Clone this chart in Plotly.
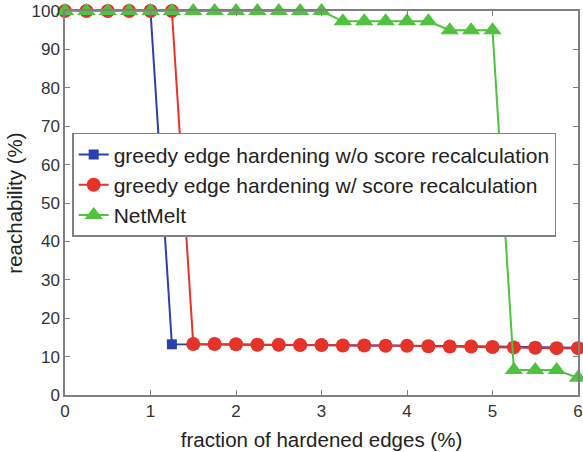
import plotly.graph_objects as go

x = [i * 0.25 for i in range(25)]
blue_y = [100, 100, 100, 100, 100, 13.2, 13.2, 13.2, 13.1, 13.1, 13.0, 13.0, 13.0,
          12.9, 12.9, 12.9, 12.8, 12.8, 12.7, 12.7, 12.6, 12.5, 12.4, 12.3, 12.3]
red_y = [100, 100, 100, 100, 100, 100, 13.3, 13.3, 13.2, 13.1, 13.1, 13.0, 13.0,
         12.9, 12.9, 12.8, 12.8, 12.7, 12.6, 12.6, 12.5, 12.4, 12.3, 12.2, 12.2]
green_y = [100, 100, 100, 100, 100, 100, 100, 100, 100, 100, 100, 100, 100,
           97.3, 97.3, 97.3, 97.3, 97.3, 95.0, 95.0, 95.0, 6.5, 6.5, 6.5, 4.5]

names = ["greedy edge hardening w/o score recalculation",
         "greedy edge hardening w/ score recalculation",
         "NetMelt"]

fig = go.Figure()
fig.add_trace(go.Scatter(x=x, y=blue_y, name=names[0], mode="lines+markers",
                         line=dict(color="#2b3fae", width=2),
                         marker=dict(symbol="square", size=10, color="#2b3fae"),
                         cliponaxis=False))
fig.add_trace(go.Scatter(x=x, y=red_y, name=names[1], mode="lines+markers",
                         line=dict(color="#e6332a", width=2),
                         marker=dict(symbol="circle", size=14, color="#e6332a"),
                         cliponaxis=False))
fig.add_trace(go.Scatter(x=x, y=green_y, name=names[2], mode="lines+markers",
                         line=dict(color="#4fc23f", width=2),
                         marker=dict(symbol="triangle-up", size=16, color="#4fc23f"),
                         cliponaxis=False))

axis_common = dict(showline=True, linecolor="#808080", linewidth=1.5, mirror="ticks",
                   ticks="inside", ticklen=5, tickcolor="#808080", showgrid=False,
                   zeroline=False, automargin=False,
                   tickfont=dict(size=17, color="#333333"))

fig.update_layout(
    width=583, height=452,
    margin=dict(l=65, r=5, t=11, b=57),
    plot_bgcolor="white", paper_bgcolor="white",
    font=dict(family="Liberation Sans, Arial, sans-serif", color="#222222"),
    xaxis=dict(range=[0, 6], dtick=1, title=dict(text="fraction of hardened edges (%)",
               font=dict(size=20.5), standoff=12), **axis_common),
    yaxis=dict(range=[0, 100], dtick=10, title=dict(text="reachability (%)",
               font=dict(size=20.5), standoff=3), **axis_common),
    legend=dict(x=0.014, y=0.683, xanchor="left", yanchor="top",
                bgcolor="white", bordercolor="#808080", borderwidth=1.5,
                font=dict(size=21, color="#222222"), tracegroupgap=0),
    showlegend=True,
)

fig.write_html("out.html", config={"displayModeBar": False},
               post_script="document.body.style.margin='0';")
